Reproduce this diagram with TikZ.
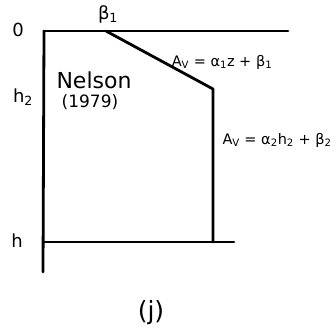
\documentclass[tikz,border=0pt]{standalone}
\usepackage{fontspec}
\setmainfont{DejaVu Sans}
\begin{document}
\begin{tikzpicture}[x=1pt,y=-1pt,
  ln/.style={line width=2.8pt,line cap=round,line join=round},
  lbl/.style={inner sep=0pt,font=\fontsize{18}{20}\selectfont},
  eq/.style={inner sep=0pt,font=\fontsize{14.5}{16}\selectfont}]
\useasboundingbox (0,0) rectangle (336,333);
% corners
\coordinate (tl) at (44,31);
\coordinate (tr) at (288,31);
\coordinate (b1) at (106,31);
\coordinate (kn) at (213,89);
\coordinate (kb) at (213,242);
\coordinate (bl) at (44,242);
\coordinate (br) at (234,242);
\coordinate (ax) at (43,272);
% lines
\draw[ln] (tl) -- (tr);
\draw[ln] (tl) -- (ax);
\draw[ln] (b1) -- (kn) -- (kb);
\draw[ln] (bl) -- (br);
% labels
\node[lbl] (z0) at (18,30) {0};
\node[lbl] (h2) at (23,97) {h\textsubscript{2}};
\node[lbl] (h) at (17,241) {h};
\node[lbl] (beta) at (108,14) {β\textsubscript{1}};
\node[inner sep=0pt,font=\fontsize{22}{24}\selectfont] (nel) at (94,80) {Nelson};
\node[inner sep=0pt,font=\fontsize{17}{19}\selectfont] (yr) at (90,102) {(1979)};
\node[eq] (e1) at (222,62) {A\textsubscript{V} = α\textsubscript{1}z + β\textsubscript{1}};
\node[eq] (e2) at (277,140) {A\textsubscript{V} = α\textsubscript{2}h\textsubscript{2} + β\textsubscript{2}};
\node[inner sep=0pt,font=\fontsize{25}{27}\selectfont] (j) at (151,313) {(j)};
\end{tikzpicture}
\end{document}
